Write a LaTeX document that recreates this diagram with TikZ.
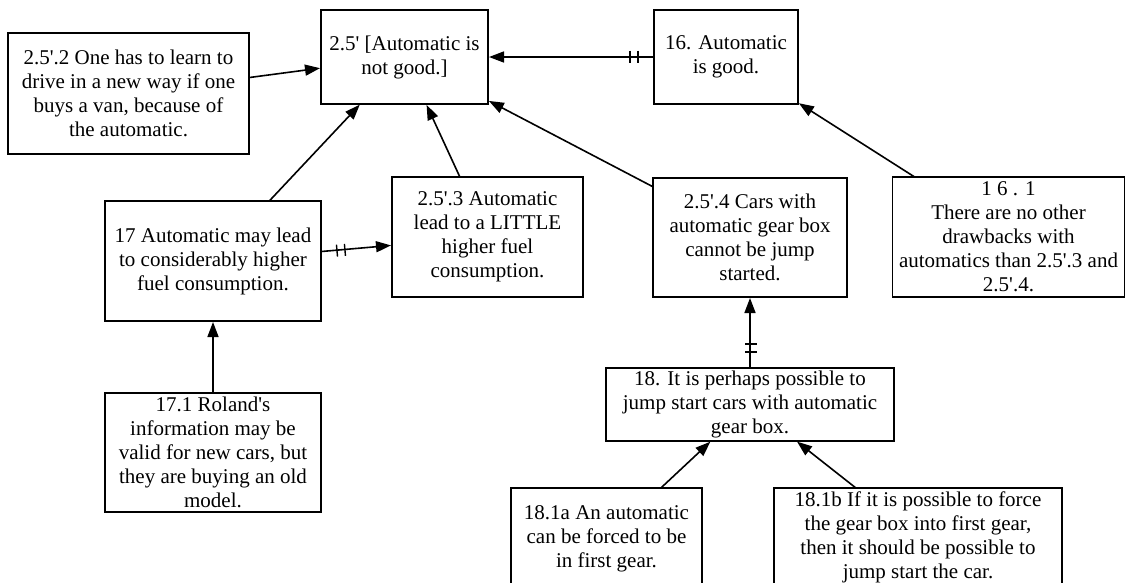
\documentclass[tikz,border=0pt]{standalone}
\usepackage{fontspec}
\setmainfont{Liberation Serif}[Ligatures=TeXOff]
\usetikzlibrary{arrows.meta,decorations.markings}

\tikzset{
  box/.style={draw, line width=1.5pt, align=center, inner sep=0pt, outer sep=0pt,
    font=\fontsize{21}{24}\selectfont},
  sz/.style 2 args={minimum width=#1pt, minimum height=#2pt},
  arr/.style={line width=1.6pt, -{Triangle[length=15pt,width=11pt]}, shorten >=1pt},
  conflict/.style={postaction={decorate, decoration={markings,
    mark=at position 16pt with {\draw[-, line width=1.4pt] (0pt,-6.5pt) -- (0pt,6.5pt);},
    mark=at position 24pt with {\draw[-, line width=1.4pt] (0pt,-6.5pt) -- (0pt,6.5pt);}}}}
}

\begin{document}
\begin{tikzpicture}[x=1pt, y=-1pt]
\useasboundingbox (0,0) rectangle (1126,582);
\clip (0,0) rectangle (1126,582);

% statements
\node[box, sz={241}{121}] (b252) at (128.5,93.5)
  {2.5'.2 One has to learn to\\drive in a new way if one\\buys a van, because of\\the automatic.};
\node[box, sz={167}{94}] (b25) at (404.5,57)
  {2.5' [Automatic is\\not good.]};
\node[box, sz={144}{94}] (b16) at (726,57)
  {16. Automatic\\is good.};
\node[box, sz={216}{120}] (b17) at (213,261)
  {17 Automatic may lead\\to considerably higher\\fuel consumption.};
\node[box, sz={216}{119}] (b171) at (213,452.5)
  {17.1 Roland's\\information may be\\valid for new cars, but\\they are buying an old\\model.};
\node[box, sz={191}{120}] (b253) at (487.5,237)
  {2.5'.3 Automatic\\lead to a LITTLE\\higher fuel\\consumption.};
\node[box, sz={194}{119}] (b254) at (750,237.5)
  {2.5'.4 Cars with\\automatic gear box\\cannot be jump\\started.};
\node[box, sz={232}{120}] (b161) at (1008.5,237)
  {1 6 . 1\\There are no other\\drawbacks with\\automatics than 2.5'.3 and\\2.5'.4.};
\node[box, sz={288}{73}] (b18) at (750,404.5)
  {18. It is perhaps possible to\\jump start cars with automatic\\gear box.};
\node[box, sz={191}{102}] (b181a) at (606.5,539)
  {18.1a An automatic\\can be forced to be\\in first gear.};
\node[box, sz={288}{98}] (b181b) at (918,537)
  {18.1b If it is possible to force\\the gear box into first gear,\\then it should be possible to\\jump start the car.};

% supporting arguments
\draw[arr] (b252) -- (b25);
\draw[arr] (b17) -- (b25);
\draw[arr] (b253) -- (b25);
\draw[arr] (b254) -- (b25);
\draw[arr] (b161) -- (b16);
\draw[arr] (b171) -- (b17);
\draw[arr] (b181a) -- (b18);
\draw[arr] (b181b) -- (b18);

% objections
\draw[arr, conflict] (b16) -- (b25);
\draw[arr, conflict] (b17) -- (b253);
\draw[arr, conflict] (b18) -- (b254);
\end{tikzpicture}
\end{document}
